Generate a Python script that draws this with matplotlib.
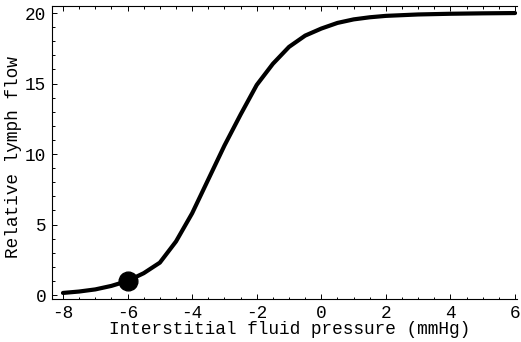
import matplotlib
matplotlib.use('Agg')
import matplotlib.pyplot as plt
from matplotlib.ticker import MultipleLocator

# Data
pressure = [-8, -7.5, -7, -6.5, -6, -5.5, -5, -4.5, -4, -3.5, -3, -2.5, -2,
            -1.5, -1, -0.5, 0, 0.5, 1, 1.5, 2, 3, 4, 5, 6]
lymph_flow = [0.15, 0.25, 0.4, 0.65, 1.0, 1.55, 2.3, 3.8, 5.8, 8.2, 10.6, 12.8, 14.9,
              16.4, 17.6, 18.4, 18.9, 19.3, 19.55, 19.7, 19.8, 19.9, 19.95, 19.98, 20.0]
marker_x = [-6]
marker_y = [1.0]

plt.rcParams['font.family'] = ['Liberation Mono', 'DejaVu Sans Mono']
plt.rcParams['axes.unicode_minus'] = False

fig = plt.figure(figsize=(5.21, 3.42), dpi=100)
ax = fig.add_axes([52 / 521, 1 - 299 / 342, 465 / 521, 293 / 342])

ax.plot(pressure, lymph_flow, color='black', lw=3, solid_capstyle='round')
ax.plot(marker_x, marker_y, 'o', color='black', ms=13.5)

ax.set_xlim(-8.34, 6.06)
ax.set_ylim(-0.28, 20.5)
ax.xaxis.set_major_locator(MultipleLocator(2))
ax.xaxis.set_minor_locator(MultipleLocator(0.5))
ax.yaxis.set_major_locator(MultipleLocator(5))
ax.yaxis.set_minor_locator(MultipleLocator(1))

ax.spines['right'].set_visible(False)
for s in ['left', 'top', 'bottom']:
    ax.spines[s].set_linewidth(0.8)

ax.tick_params(which='both', direction='in', top=True, right=False, width=0.7,
               labelsize=12.8, pad=4)
ax.tick_params(which='major', length=3.5)
ax.tick_params(which='minor', length=1.8)

ax.set_xlabel('Interstitial fluid pressure (mmHg)', fontsize=12.8)
ax.set_ylabel('Relative lymph flow', fontsize=12.8)
ax.xaxis.set_label_coords(0.511, -0.075)
ax.yaxis.set_label_coords(-0.064, 0.486)

plt.savefig('out.png', dpi=100)
